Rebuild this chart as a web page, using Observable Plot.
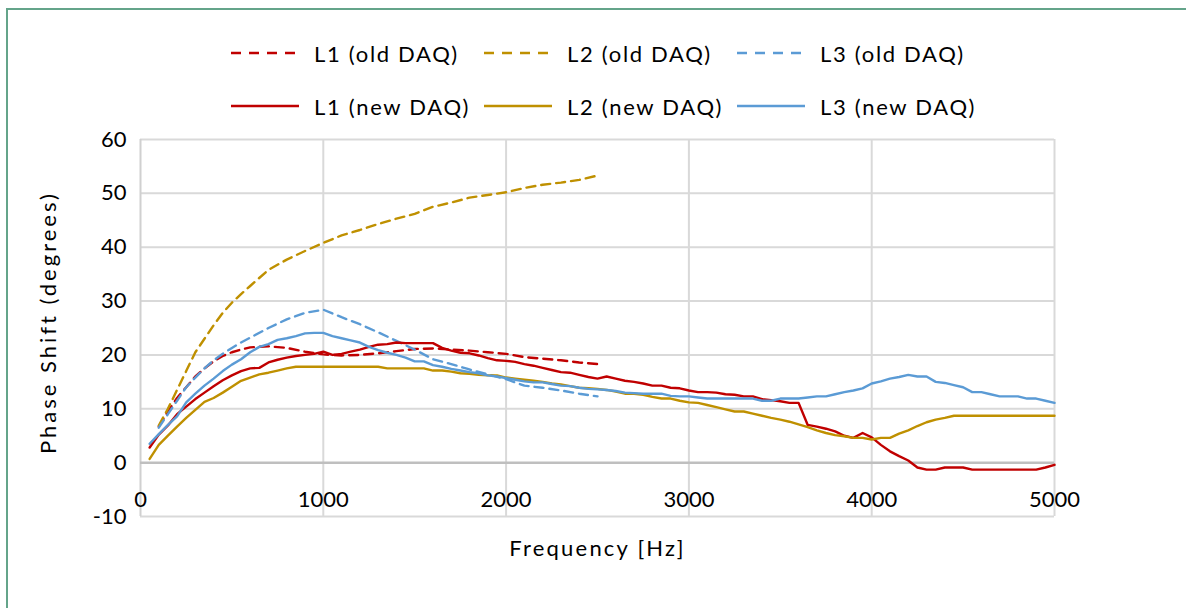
<!DOCTYPE html>
<html>
<head>
<meta charset="utf-8">
<script src="https://cdn.jsdelivr.net/npm/d3@7"></script>
<script src="https://cdn.jsdelivr.net/npm/@observablehq/plot@0.6"></script>
<style>
  html, body { margin: 0; padding: 0; background: #fff; }
  #wrap { position: relative; width: 1186px; height: 608px; overflow: hidden; background: #fff; font-family: Lato, "Open Sans", sans-serif; }
  #frame { position: absolute; left: 6px; top: 8px; width: 1200px; height: 620px; border: 2px solid #64a48a; box-sizing: border-box; }
  #chart { position: absolute; left: 0; top: 0; }
  .leg { position: absolute; display: flex; align-items: center; font-size: 22px; letter-spacing: 1.7px; color: #000; white-space: nowrap; }
  .leg svg { margin-right: 15px; }
</style>
</head>
<body>
<div id="wrap">
  <div id="frame"></div>
  <div id="chart"></div>
  <div id="legend"></div>
</div>
<script>
// ---- data ----
const seriesNames = ["L1 (old DAQ)", "L2 (old DAQ)", "L3 (old DAQ)", "L1 (new DAQ)", "L2 (new DAQ)", "L3 (new DAQ)"];
const seriesColors = ["#c00000", "#bf9000", "#5b9bd5", "#c00000", "#bf9000", "#5b9bd5"];
const seriesDashed = [true, true, true, false, false, false];

const oldFreq = [100,150,200,250,300,350,400,450,500,550,600,700,800,900,1000,1100,1200,1300,1400,1500,1600,1700,1800,1900,2000,2100,2200,2300,2400,2500];
const l1Old = [6.7,9.5,12,14,16,17.5,18.8,19.8,20.5,21,21.4,21.6,21.3,20.6,20.1,19.9,20,20.3,20.7,21.1,21.2,21,20.8,20.5,20.2,19.6,19.3,19,18.6,18.3];
const l2Old = [6.9,10,13.5,17,20.5,23,25.5,27.8,29.7,31.3,32.8,35.8,37.7,39.3,40.8,42.2,43.2,44.3,45.3,46.2,47.5,48.3,49.2,49.7,50.2,51,51.6,52,52.5,53.3];
const l3Old = [6.5,9,11.5,14,15.8,17.5,19,20.2,21.3,22.3,23.2,25,26.6,27.8,28.4,27,25.7,24.2,22.6,21,19.2,18.3,17.3,16.4,15.5,14.3,13.9,13.4,12.8,12.3];

const newFreq = [50,100,150,200,250,300,350,400,450,500,550,600,650,700,750,800,850,900,950,1000,
  1050,1100,1150,1200,1250,1300,1350,1400,1450,1500,1550,1600,1650,1700,1750,1800,1850,1900,1950,2000,
  2050,2100,2150,2200,2250,2300,2350,2400,2450,2500,2550,2600,2650,2700,2750,2800,2850,2900,2950,3000,
  3050,3100,3150,3200,3250,3300,3350,3400,3450,3500,3550,3600,3650,3700,3750,3800,3850,3900,3950,4000,
  4050,4100,4150,4200,4250,4300,4350,4400,4450,4500,4550,4600,4650,4700,4750,4800,4850,4900,4950,5000];
const l1New = [2.8,5.2,6.9,9.0,10.4,11.8,13.0,14.2,15.3,16.2,17.0,17.5,17.6,18.6,19.1,19.5,19.8,20.0,20.2,20.6,
  20.0,20.2,20.6,21.0,21.5,21.9,22.0,22.3,22.2,22.2,22.2,22.2,21.3,20.8,20.4,20.3,19.9,19.4,19.0,18.9,
  18.7,18.3,18.0,17.6,17.2,16.8,16.7,16.3,15.9,15.6,16.0,15.6,15.2,15.0,14.7,14.3,14.3,13.9,13.8,13.4,
  13.1,13.1,13.0,12.7,12.6,12.3,12.3,11.8,11.6,11.4,11.1,11.1,7.0,6.7,6.3,5.8,5.0,4.6,5.5,4.7,
  3.3,2.1,1.2,0.4,-0.9,-1.3,-1.3,-0.9,-0.9,-0.9,-1.3,-1.3,-1.3,-1.3,-1.3,-1.3,-1.3,-1.3,-0.9,-0.4];
const l2New = [0.7,3.3,5.0,6.7,8.3,9.8,11.3,12.0,13.0,14.1,15.2,15.8,16.4,16.7,17.1,17.5,17.8,17.8,17.8,17.8,
  17.8,17.8,17.8,17.8,17.8,17.8,17.5,17.5,17.5,17.5,17.5,17.1,17.1,16.9,16.6,16.5,16.3,16.2,16.2,15.8,
  15.6,15.4,15.2,15.0,14.7,14.5,14.2,13.9,13.8,13.7,13.5,13.2,12.8,12.8,12.6,12.2,11.9,11.9,11.5,11.2,
  11.1,10.7,10.3,9.9,9.5,9.5,9.1,8.7,8.3,8.0,7.6,7.1,6.6,6.0,5.5,5.1,4.9,4.6,4.6,4.3,
  4.6,4.6,5.4,6.0,6.8,7.5,8.0,8.3,8.7,8.7,8.7,8.7,8.7,8.7,8.7,8.7,8.7,8.7,8.7,8.7];
const l3New = [3.5,5.3,7.0,8.6,11.2,12.8,14.3,15.6,17.0,18.2,19.2,20.5,21.5,22.0,22.8,23.1,23.5,24.0,24.1,24.1,
  23.5,23.1,22.7,22.3,21.5,20.9,20.4,20.0,19.5,18.8,18.8,18.1,17.8,17.4,17.1,16.8,16.6,16.2,16.0,15.7,
  15.4,15.1,14.9,14.9,14.6,14.3,14.2,13.9,13.7,13.6,13.5,13.3,13.0,12.9,12.8,12.8,12.8,12.4,12.3,12.3,
  12.1,11.9,11.9,11.9,11.9,11.9,11.9,11.5,11.5,11.9,11.9,11.9,12.1,12.3,12.3,12.7,13.1,13.4,13.8,14.7,
  15.1,15.6,15.9,16.3,16.0,16.0,15.0,14.8,14.4,14.0,13.1,13.1,12.7,12.3,12.3,12.3,11.9,11.9,11.5,11.1];

const xTicks = [0,1000,2000,3000,4000,5000];
const yTicks = [-10,0,10,20,30,40,50,60];
const xTitle = "Frequency [Hz]";
const yTitle = "Phase Shift (degrees)";

// ---- build table ----
const seriesFreqs = [oldFreq, oldFreq, oldFreq, newFreq, newFreq, newFreq];
const seriesVals = [l1Old, l2Old, l3Old, l1New, l2New, l3New];
const rows = [];
seriesNames.forEach((name, i) => {
  const f = seriesFreqs[i], v = seriesVals[i];
  const n = Math.min(f.length, v.length);
  for (let k = 0; k < n; k++) rows.push({series: name, idx: i, f: f[k], v: v[k]});
});

const lineMarks = seriesNames.map((name, i) =>
  Plot.line(rows.filter(r => r.idx === i), {
    x: "f", y: "v",
    stroke: seriesColors[i],
    strokeWidth: 2.4,
    strokeDasharray: seriesDashed[i] ? "9,6" : null,
    strokeLinejoin: "round"
  })
);

const chart = Plot.plot({
  width: 1186,
  height: 608,
  marginLeft: 140,
  marginRight: 132,
  marginTop: 139,
  marginBottom: 92,
  x: {domain: [0, 5000], axis: null},
  y: {domain: [-10, 60]},
  style: {fontFamily: "Lato, 'Open Sans', sans-serif", fontSize: "22px", background: "transparent", color: "#000", overflow: "visible"},
  marks: [
    Plot.gridX(xTicks.filter(d => d > 0), {stroke: "#d9d9d9", strokeOpacity: 1, strokeWidth: 2}),
    Plot.gridY(yTicks.filter(d => d !== 0), {stroke: "#d9d9d9", strokeOpacity: 1, strokeWidth: 2}),
    Plot.ruleX([0], {stroke: "#d0d0d0", strokeWidth: 2}),
    Plot.ruleY([0], {stroke: "#bfbfbf", strokeWidth: 2.5}),
    Plot.axisY(yTicks, {tickSize: 0, tickPadding: 14, label: null, fontSize: 22, tickFormat: d => String(d)}),
    Plot.text(xTicks, {x: d => d, y: -7, text: d => String(d), fontSize: 22, fill: "#000"}),
    ...lineMarks,
    Plot.text([xTitle], {x: 2500, y: -16, text: d => d, fontSize: 22, fill: "#000"}),
    Plot.text([yTitle], {frameAnchor: "left", textAnchor: "middle", dx: -92, y: 26, rotate: -90, text: d => d, fontSize: 22, fill: "#000"})
  ]
});
d3.select(chart).selectAll("text").filter(function() {
  return this.textContent === xTitle;
}).attr("letter-spacing", "2.2px");
d3.select(chart).selectAll("text").filter(function() {
  return this.textContent === yTitle;
}).attr("letter-spacing", "3px");
document.getElementById("chart").appendChild(chart);

// ---- legend ----
const legX = [231, 484, 737];
const legY = [53, 106];
const legend = document.getElementById("legend");
seriesNames.forEach((name, i) => {
  const row = Math.floor(i / 3), col = i % 3;
  const div = document.createElement("div");
  div.className = "leg";
  div.style.left = legX[col] + "px";
  div.style.top = (legY[row] - 16) + "px";
  div.style.height = "32px";
  const dash = seriesDashed[i] ? ' stroke-dasharray="10,8"' : '';
  div.innerHTML = `<svg width="68" height="8"><line x1="0" y1="4" x2="68" y2="4" stroke="${seriesColors[i]}" stroke-width="2.6"${dash}/></svg><span>${name}</span>`;
  legend.appendChild(div);
});
</script>
</body>
</html>
